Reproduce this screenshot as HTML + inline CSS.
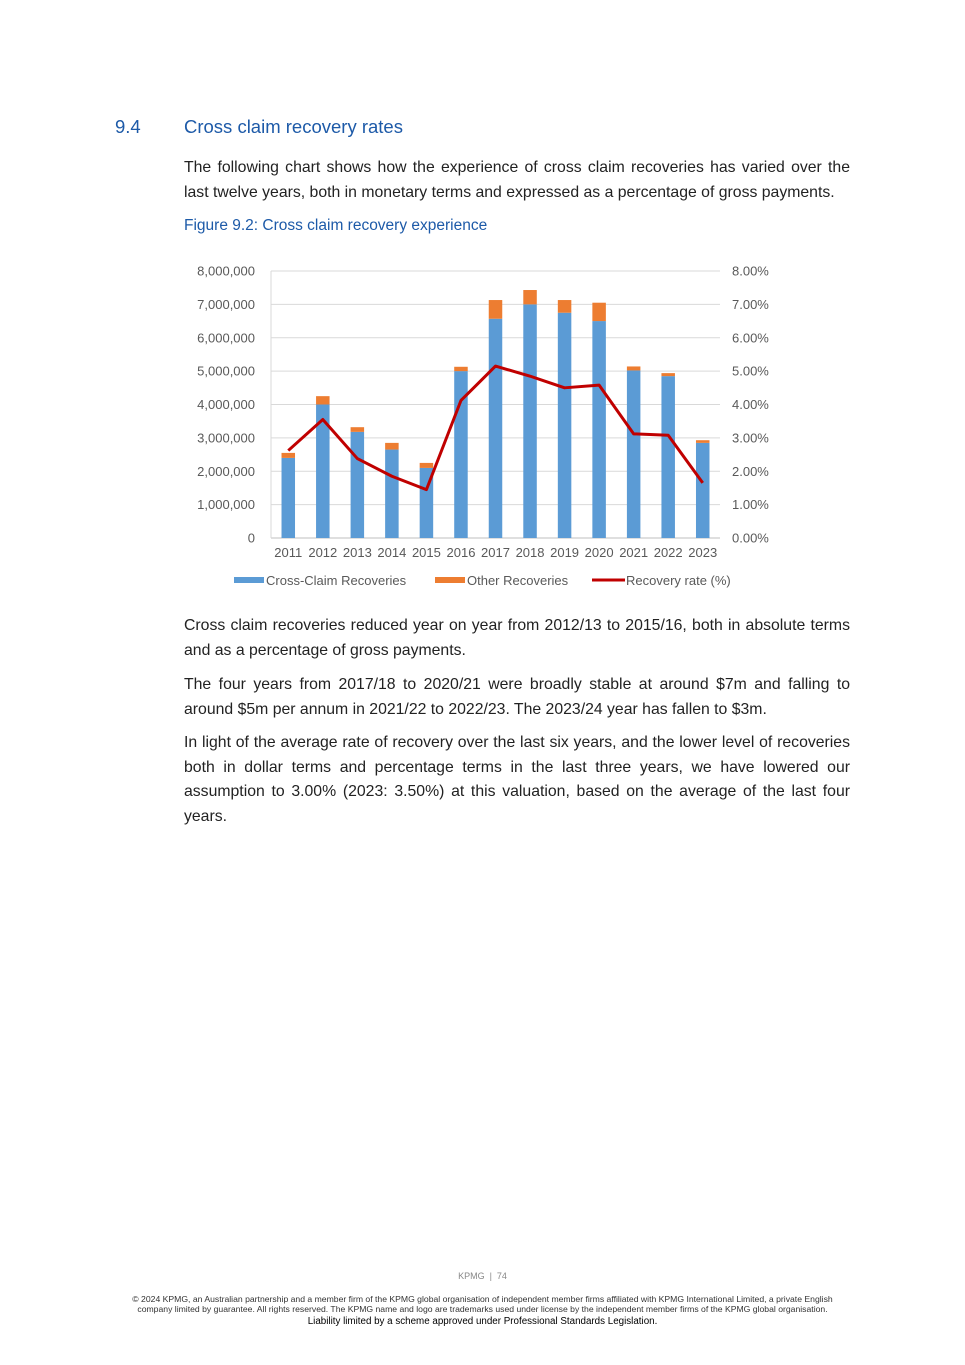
<!DOCTYPE html>
<html><head><meta charset="utf-8">
<style>
body{margin:0;background:#fff;font-family:"Liberation Sans",sans-serif;}
.page{position:relative;width:965px;height:1365px;overflow:hidden;}
.abs{position:absolute;}
.h{color:#1d5aa8;font-size:18.5px;}
.p{left:184px;width:666px;font-size:15.8px;line-height:24.5px;color:#222;text-align:justify;letter-spacing:0px;}
</style></head><body>
<div class="page">
<div class="abs h" style="left:115px;top:116px">9.4</div>
<div class="abs h" style="left:184px;top:116px">Cross claim recovery rates</div>
<div class="abs p" style="top:156px">The following chart shows how the experience of cross claim recoveries has varied over the last twelve years, both in monetary terms and expressed as a percentage of gross payments.</div>
<div class="abs" style="left:184px;top:217px;font-size:15.5px;color:#1d5aa8">Figure 9.2: Cross claim recovery experience</div>
<svg class="abs" style="left:0;top:0" width="965" height="600" id="chart"></svg>
<div class="abs p" style="top:614px">Cross claim recoveries reduced year on year from 2012/13 to 2015/16, both in absolute terms and as a percentage of gross payments.</div>
<div class="abs p" style="top:673px">The four years from 2017/18 to 2020/21 were broadly stable at around $7m and falling to around $5m per annum in 2021/22 to 2022/23. The 2023/24 year has fallen to $3m.</div>
<div class="abs p" style="top:731px">In light of the average rate of recovery over the last six years, and the lower level of recoveries both in dollar terms and percentage terms in the last three years, we have lowered our assumption to 3.00% (2023: 3.50%) at this valuation, based on the average of the last four years.</div>
<div class="abs" style="left:0;width:965px;top:1271px;text-align:center;font-size:9px;color:#888">KPMG &nbsp;|&nbsp; 74</div>
<div class="abs" style="left:40px;width:885px;top:1295px;text-align:center;font-size:8.65px;line-height:9.8px;color:#333;white-space:nowrap">© 2024 KPMG, an Australian partnership and a member firm of the KPMG global organisation of independent member firms affiliated with KPMG International Limited, a private English<br>company limited by guarantee. All rights reserved. The KPMG name and logo are trademarks used under license by the independent member firms of the KPMG global organisation.<br><span style="font-size:9.8px;color:#000;line-height:13px">Liability limited by a scheme approved under Professional Standards Legislation.</span></div>
</div>
<script>
const years=["2011","2012","2013","2014","2015","2016","2017","2018","2019","2020","2021","2022","2023"];
const crossClaim=[2.4,4.0,3.18,2.65,2.1,5.0,6.57,7.0,6.75,6.5,5.02,4.85,2.85];
const totalRecov=[2.55,4.25,3.32,2.85,2.25,5.13,7.13,7.43,7.13,7.05,5.14,4.94,2.93];
const rate=[2.62,3.55,2.38,1.85,1.45,4.12,5.15,4.85,4.5,4.58,3.12,3.08,1.65];
const leftTicks=["0","1,000,000","2,000,000","3,000,000","4,000,000","5,000,000","6,000,000","7,000,000","8,000,000"];
const rightTicks=["0.00%","1.00%","2.00%","3.00%","4.00%","5.00%","6.00%","7.00%","8.00%"];
const svg=document.getElementById('chart');const NS="http://www.w3.org/2000/svg";
const X0=271,X1=720,Y0=538,Y1=271;
const yL=v=>Y0-(v/8)*(Y0-Y1);const yR=v=>Y0-(v/8)*(Y0-Y1);
const step=(X1-X0)/years.length;const xc=i=>X0+step*(i+0.5);
function mk(t,a,txt){const e=document.createElementNS(NS,t);for(const k in a)e.setAttribute(k,a[k]);if(txt!==undefined)e.textContent=txt;svg.appendChild(e);return e;}
leftTicks.forEach((t,i)=>{
const y=yL(i);
const g=mk('line',{x1:X0,x2:X1,y1:y,y2:y,stroke:i?'#d9d9d9':'#bfbfbf','stroke-width':1});


const a=mk('text',{x:255,y:y+4.5,'text-anchor':'end','font-size':13,fill:'#595959','font-family':'Liberation Sans'},t);


const b=mk('text',{x:732,y:y+4.5,'font-size':13,fill:'#595959','font-family':'Liberation Sans'},rightTicks[i]);


});
const ax=mk('line',{x1:X0,x2:X0,y1:Y1,y2:Y0,stroke:'#d9d9d9'});


const bw=13.5;
years.forEach((yr,i)=>{
const x=xc(i)-bw/2;
const b=mk('rect',{x:x,y:yL(crossClaim[i]),width:bw,height:Y0-yL(crossClaim[i]),fill:'#5b9bd5'});


const o=mk('rect',{x:x,y:yL(totalRecov[i]),width:bw,height:yL(crossClaim[i])-yL(totalRecov[i]),fill:'#ed7d31'});


const l=mk('text',{x:xc(i),y:557,'text-anchor':'middle','font-size':13,fill:'#595959','font-family':'Liberation Sans'},yr);


});
const pl=mk('polyline',{points:rate.map((r,i)=>xc(i)+','+yR(r)).join(' '),fill:'none',stroke:'#c00000','stroke-width':3,'stroke-linejoin':'round'});


const leg=[["rect",234,'#5b9bd5','Cross-Claim Recoveries'],["rect",435,'#ed7d31','Other Recoveries'],["line",592,'#c00000','Recovery rate (%)']];
leg.forEach(([k,x,c,t])=>{
let m;
if(k==='rect')m=mk('rect',{x:x,y:577,width:30,height:6,fill:c});
else m=mk('line',{x1:x,x2:x+33,y1:580,y2:580,stroke:c,'stroke-width':3});


const tx=mk('text',{x:x+(k==='rect'?32:34),y:585,'font-size':13,fill:'#595959','font-family':'Liberation Sans'},t);


});
</script>
</body></html>
